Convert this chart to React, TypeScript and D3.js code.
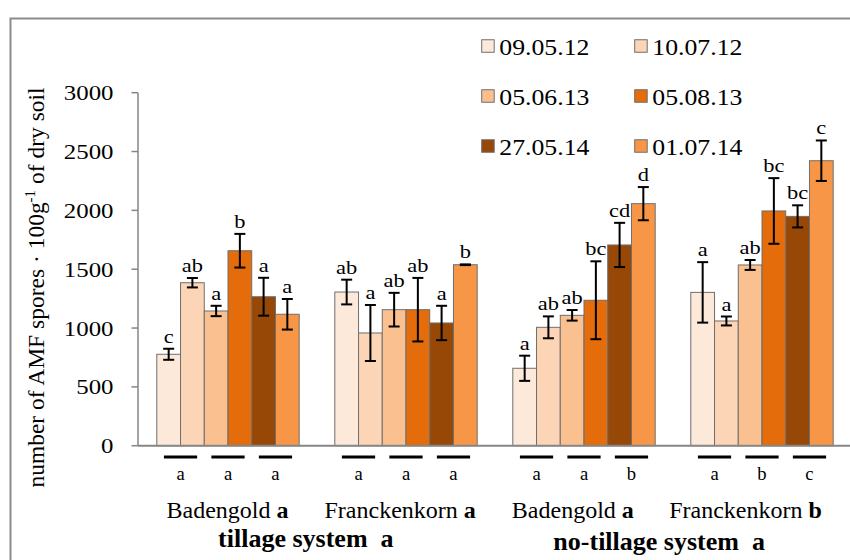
import React from "react";
import * as d3 from "d3";

// ---- data ----
const groups = ["Badengold", "Franckenkorn", "Badengold", "Franckenkorn"];
const groupLetters = ["a", "a", "a", "b"];
const systems = ["tillage system  a", "no-tillage system  a"];
const dates = ["09.05.12", "10.07.12", "05.06.13", "05.08.13", "27.05.14", "01.07.14"];
const colors = ["#FDE9D9", "#FBD5B5", "#FAC090", "#E46C0A", "#974806", "#F79646"];

// means per sampling date, across the four groups
const s0912 = [777, 1306, 658, 1303];
const s1007 = [1385, 958, 1006, 1060];
const s0506 = [1145, 1156, 1108, 1536];
const s0508 = [1657, 1156, 1236, 1995];
const s2705 = [1266, 1043, 1706, 1949];
const s0107 = [1117, 1538, 2057, 2422];
const means = [s0912, s1007, s0506, s0508, s2705, s0107];

// standard errors
const e0912 = [47, 105, 107, 257];
const e1007 = [40, 238, 93, 38];
const e0506 = [44, 143, 45, 42];
const e0508 = [143, 270, 331, 279];
const e2705 = [161, 146, 188, 94];
const e0107 = [130, 3, 141, 172];
const errs = [e0912, e1007, e0506, e0508, e2705, e0107];

// significance letters per bar
const l0912 = ["c", "ab", "a", "a"];
const l1007 = ["ab", "a", "ab", "a"];
const l0506 = ["a", "ab", "ab", "ab"];
const l0508 = ["b", "ab", "bc", "bc"];
const l2705 = ["a", "a", "cd", "bc"];
const l0107 = ["a", "b", "d", "c"];
const letters = [l0912, l1007, l0506, l0508, l2705, l0107];

// year letters (2012, 2013, 2014) per group
const yearLetters = [
  ["a", "a", "a"],
  ["a", "a", "a"],
  ["a", "a", "b"],
  ["a", "b", "c"],
];

const yTicks = [0, 500, 1000, 1500, 2000, 2500, 3000];

const FONT = '"Liberation Serif", "DejaVu Serif", serif';

function T({ x, y, sx = 1, size, anchor = "start", weight = "normal", children }: any) {
  return (
    <text
      transform={`translate(${x},${y}) scale(${sx},1)`}
      textAnchor={anchor}
      fill="#000"
      style={{ whiteSpace: "pre", fontFamily: FONT, fontSize: size, fontWeight: weight }}
    >
      {children}
    </text>
  );
}

export default function App() {
  const W = 850;
  const H = 560;
  const y = d3.scaleLinear().domain([0, 3000]).range([445.7, 92.7]);
  const x0 = d3
    .scaleBand<number>()
    .domain(d3.range(groups.length))
    .range([139, 851])
    .paddingInner(0.2)
    .paddingOuter(0.1);
  const x1 = d3.scaleBand<number>().domain(d3.range(dates.length)).range([0, x0.bandwidth()]);
  const xYear = d3.scaleBand<number>().domain(d3.range(3)).range([0, x0.bandwidth()]);
  const xLabel = d3.scalePoint<number>().domain(d3.range(groups.length)).range([227.5, 745.5]);

  const axisX = 138;
  const baseY = y(0);
  const cap = 5.5;

  const legendCols = [481.7, 634.7];
  const legendRows = [46, 96, 146];
  const sq = 12.5;

  return (
    <svg
      width={W}
      height={H}
      style={{ position: "absolute", left: 0, top: 0, background: "#fff", fontFamily: FONT }}
    >
      {/* outer frame */}
      <rect x={10.5} y={18.5} width={900} height={600} fill="none" stroke="#8c8c8c" strokeWidth={2} />

      {/* y axis */}
      <line x1={axisX} x2={axisX} y1={y(3000)} y2={baseY} stroke="#868686" strokeWidth={1.5} />
      {yTicks.map((t) => (
        <g key={t}>
          <line x1={axisX - 6.5} x2={axisX} y1={y(t)} y2={y(t)} stroke="#868686" strokeWidth={1.5} />
          <T x={113.5} y={y(t) + 7.5} sx={1.13} size={22} anchor="end">
            {String(t)}
          </T>
        </g>
      ))}

      {/* y title */}
      <text
        transform="translate(44,287.5) rotate(-90)"
        textAnchor="middle"
        fill="#000"
        style={{ fontFamily: FONT, fontSize: 23.5 }}
      >
        number of AMF spores · 100g
        <tspan style={{ fontSize: 15 }} dy={-9}>-1</tspan>
        <tspan dy={9}> of dry soil</tspan>
      </text>

      {/* bars */}
      {groups.map((g, gi) => (
        <g key={gi} transform={`translate(${x0(gi)},0)`}>
          {dates.map((d, si) => {
            const v = means[si][gi];
            const e = errs[si][gi];
            const bx = x1(si)!;
            const bw = x1.bandwidth();
            const cx = bx + bw / 2;
            return (
              <g key={si}>
                <rect
                  x={bx}
                  y={y(v)}
                  width={bw}
                  height={baseY - y(v)}
                  fill={colors[si]}
                  stroke="#6f6f6f"
                  strokeWidth={1}
                />
                <line x1={cx} x2={cx} y1={y(v + e)} y2={y(v - e)} stroke="#000" strokeWidth={2} />
                <line x1={cx - cap} x2={cx + cap} y1={y(v + e)} y2={y(v + e)} stroke="#000" strokeWidth={2} />
                <line x1={cx - cap} x2={cx + cap} y1={y(v - e)} y2={y(v - e)} stroke="#000" strokeWidth={2} />
                <T x={cx} y={y(v + e) - 6} sx={1.15} size={19.5} anchor="middle">
                  {letters[si][gi]}
                </T>
              </g>
            );
          })}
          {yearLetters[gi].map((yl, yi) => {
            const cx = xYear(yi)! + xYear.bandwidth() / 2;
            const dw = xYear.bandwidth() * 0.7;
            return (
              <g key={yi}>
                <line x1={cx - dw / 2} x2={cx + dw / 2} y1={457} y2={457} stroke="#000" strokeWidth={3} />
                <T x={cx} y={480} size={18.6} anchor="middle">
                  {yl}
                </T>
              </g>
            );
          })}
        </g>
      ))}

      {/* x axis baseline */}
      <line x1={axisX} x2={W} y1={baseY} y2={baseY} stroke="#868686" strokeWidth={2} />

      {/* cultivar labels */}
      {groups.map((g, gi) => (
        <text
          key={gi}
          x={xLabel(gi)}
          y={518}
          textAnchor="middle"
          fill="#000"
          style={{ whiteSpace: "pre", fontFamily: FONT, fontSize: 24 }}
        >
          {g + " "}
          <tspan style={{ fontWeight: "bold" }}>{groupLetters[gi]}</tspan>
        </text>
      ))}

      {/* system labels */}
      {systems.map((s, i) => (
        <text
          key={i}
          x={(xLabel(i * 2)! + xLabel(i * 2 + 1)!) / 2 - (i === 0 ? 8 : 0)}
          y={i === 0 ? 546.5 : 550}
          textAnchor="middle"
          fill="#000"
          style={{ whiteSpace: "pre", fontFamily: FONT, fontSize: 26, fontWeight: "bold" }}
        >
          {s}
        </text>
      ))}

      {/* legend */}
      {dates.map((d, i) => {
        const cx = legendCols[i % 2];
        const cy = legendRows[Math.floor(i / 2)];
        return (
          <g key={d}>
            <rect x={cx} y={cy - sq / 2} width={sq} height={sq} fill={colors[i]} stroke="#6f6f6f" strokeWidth={1} />
            <T x={cx + 17.6} y={cy + 8.5} sx={1.12} size={23} anchor="start">
              {d}
            </T>
          </g>
        );
      })}
    </svg>
  );
}
